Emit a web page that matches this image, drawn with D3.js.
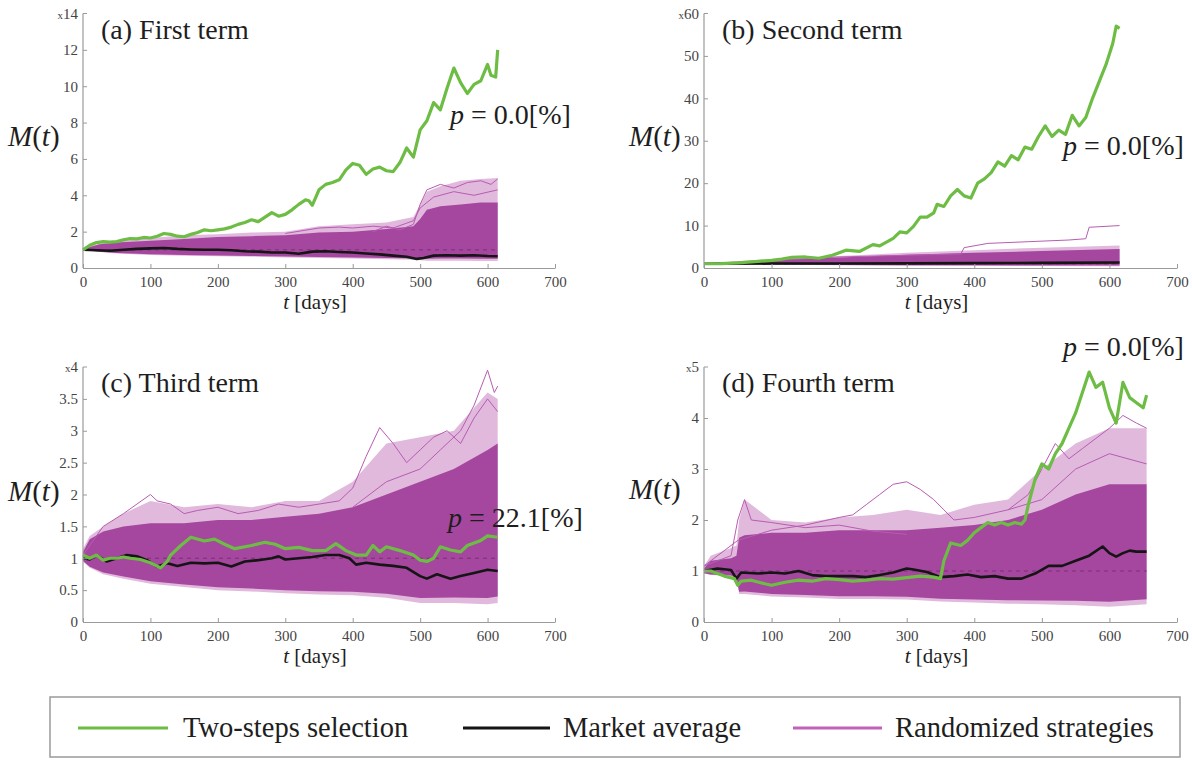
<!DOCTYPE html>
<html>
<head>
<meta charset="utf-8">
<script src="https://cdn.jsdelivr.net/npm/d3@7"></script>
<style>
  body { margin: 0; background: #fff; }
  svg { display: block; }
  text { font-family: "Liberation Serif", LiberationSerif, "Times New Roman", Times, "Nimbus Roman", "Nimbus Roman No9 L", FreeSerif, "Noto Serif", "DejaVu Serif", Tinos, serif; }
</style>
</head>
<body>
<div id="chart"></div>
<script>
// x ticks shared by all panels
const xTicks = [0, 100, 200, 300, 400, 500, 600, 700];

// ---- (a) First term ----
const tGreenA = [0,10,20,30,40,50,60,70,80,90,100,110,120,130,140,150,160,170,180,190,200,210,220,230,240,250,260,270,280,290,300,310,320,330,335,340,350,360,370,380,390,400,410,420,430,440,450,460,470,480,490,500,510,520,530,540,550,560,570,580,590,600,605,612,615];
const greenA = [1.0,1.25,1.4,1.45,1.42,1.45,1.55,1.62,1.6,1.68,1.65,1.75,1.9,1.85,1.75,1.72,1.85,1.95,2.1,2.05,2.1,2.15,2.25,2.4,2.5,2.65,2.55,2.8,3.05,2.85,2.95,3.2,3.5,3.75,3.7,3.45,4.3,4.6,4.7,4.85,5.4,5.75,5.65,5.15,5.45,5.55,5.35,5.3,5.8,6.6,6.1,7.6,8.1,9.1,8.7,9.9,11.0,10.2,9.6,10.1,10.3,11.2,10.6,10.5,12.0];
const tBlackA = [0,20,40,60,80,100,120,140,160,180,200,220,240,260,280,300,320,340,360,380,400,420,440,460,480,495,505,520,540,560,580,600,615];
const blackA = [1.0,0.98,0.95,1.0,1.05,1.08,1.1,1.05,1.02,1.0,1.0,0.98,0.92,0.9,0.85,0.85,0.78,0.9,0.92,0.88,0.85,0.8,0.75,0.68,0.62,0.5,0.55,0.68,0.7,0.68,0.7,0.66,0.65];
const tBandA = [0,10,25,50,100,150,200,250,300,350,400,450,490,500,510,530,560,590,615];
const denseHiA = [1.0,1.15,1.3,1.4,1.5,1.6,1.7,1.75,1.8,1.95,2.0,2.15,2.3,2.7,3.2,3.4,3.5,3.6,3.6];
const sparseHiA = [1.0,1.2,1.35,1.5,1.65,1.8,1.85,1.95,2.0,2.3,2.4,2.5,2.8,3.5,4.2,4.5,4.8,4.9,4.95];
const loA = [1.0,0.95,0.88,0.8,0.72,0.68,0.65,0.62,0.58,0.55,0.52,0.48,0.45,0.42,0.4,0.4,0.4,0.38,0.38];
const tOutA1 = [430,450,470,490,500,510,530,550,570,590,605,615];
const outA1 = [2.0,2.3,2.1,2.4,3.5,4.3,4.6,4.4,4.7,4.8,4.6,4.9];
const tOutA2 = [300,350,380,400,430,460,490,500,520,550,580,615];
const outA2 = [1.9,2.2,2.25,2.2,2.3,2.2,2.6,3.3,3.9,4.2,4.0,4.3];
const yTicksA = [0, 2, 4, 6, 8, 10, 12];

// ---- (b) Second term ----
const tGreenB = [0,25,50,75,100,115,130,150,170,190,210,230,250,260,280,290,300,310,320,330,340,345,355,365,375,385,395,405,415,425,435,445,455,465,475,485,495,505,515,525,535,545,555,565,575,585,595,605,610,615];
const greenB = [1.0,1.05,1.2,1.5,1.8,2.1,2.5,2.6,2.3,3.0,4.2,3.9,5.5,5.2,7.0,8.5,8.3,9.8,12.0,12.0,13.0,15.0,14.5,17.0,18.5,17.0,16.5,20.0,21.0,22.5,25.0,24.0,26.5,25.5,28.5,28.0,31.0,33.5,31.0,32.5,31.5,36.0,33.5,35.5,40.0,44.0,48.0,53.0,57.0,56.5];
const tBlackB = [0,100,200,300,400,500,615];
const blackB = [1.0,1.05,1.05,1.1,1.15,1.2,1.3];
const tBandB = [0,50,100,200,300,400,500,615];
const denseHiB = [1.0,1.4,1.9,2.5,3.1,3.6,4.0,4.5];
const sparseHiB = [1.0,1.6,2.1,2.8,3.6,4.2,4.8,5.3];
const loB = [1.0,0.85,0.75,0.65,0.55,0.5,0.45,0.4];
const tOutB = [0,100,200,300,380,385,420,480,540,565,570,615];
const outB = [1.0,1.8,2.6,3.0,3.3,4.8,5.8,6.2,6.6,6.9,9.6,10.0];
const yTicksB = [0, 10, 20, 30, 40, 50];

// ---- (c) Third term ----
const tGreenC = [0,10,20,30,40,50,60,70,85,100,115,125,130,145,160,180,195,210,225,250,270,285,300,320,340,360,375,390,405,420,430,440,450,470,490,500,510,520,530,545,560,570,590,600,615];
const greenC = [1.05,1.0,1.05,0.97,1.0,1.0,1.02,1.0,0.98,0.93,0.85,0.95,1.05,1.2,1.33,1.27,1.3,1.22,1.15,1.2,1.25,1.22,1.15,1.17,1.12,1.12,1.23,1.12,1.05,1.05,1.2,1.1,1.18,1.12,1.05,0.97,0.95,1.0,1.18,1.13,1.1,1.2,1.28,1.35,1.33];
const tBlackC = [0,10,20,35,50,65,80,95,110,125,140,160,180,200,220,240,260,280,290,300,320,340,360,380,395,405,420,440,460,480,500,510,525,545,560,580,600,615];
const blackC = [1.0,0.98,1.05,0.95,1.0,1.05,1.03,0.97,0.87,0.92,0.88,0.93,0.92,0.93,0.87,0.95,0.97,1.0,1.03,0.98,1.0,1.02,1.05,1.05,1.0,0.9,0.93,0.9,0.88,0.85,0.72,0.68,0.75,0.68,0.72,0.77,0.82,0.8];
const tBandC = [0,10,30,60,100,150,200,250,300,350,400,450,500,550,600,615];
const denseHiC = [1.1,1.3,1.42,1.5,1.55,1.55,1.6,1.6,1.65,1.7,1.8,2.0,2.2,2.4,2.7,2.8];
const sparseHiC = [1.15,1.35,1.5,1.7,1.9,1.8,1.85,1.8,1.9,1.9,2.2,2.8,2.9,3.0,3.6,3.5];
const loC = [0.95,0.85,0.75,0.68,0.6,0.55,0.5,0.48,0.45,0.43,0.42,0.38,0.3,0.3,0.28,0.3];
const tOutC1 = [0,30,60,80,100,110,130,150,170,200,230,260,290,320,350,380];
const outC1 = [1.05,1.5,1.7,1.85,2.0,1.9,1.85,1.7,1.75,1.8,1.7,1.75,1.85,1.8,1.85,1.9];
const tOutC2 = [380,400,420,440,460,480,500,520,540,560,580,600,615];
const outC2 = [1.9,2.1,2.6,3.05,2.8,2.5,2.7,2.9,3.0,2.8,3.2,3.5,3.3];
const tOutC3 = [400,450,500,530,560,580,600,610,615];
const outC3 = [1.8,2.2,2.4,2.7,3.0,3.4,3.95,3.6,3.7];
const yTicksC = [0, 0.5, 1, 1.5, 2, 2.5, 3, 3.5];

// ---- (d) Fourth term ----
const tGreenD = [0,10,20,30,45,50,55,70,90,100,120,140,160,180,200,220,240,260,280,300,320,340,350,355,365,380,390,400,410,420,430,440,450,460,470,475,480,490,500,510,520,530,540,550,560,570,580,590,600,610,620,630,640,650,655];
const greenD = [1.0,1.0,0.95,0.9,0.85,0.72,0.8,0.82,0.75,0.72,0.78,0.82,0.8,0.85,0.83,0.8,0.82,0.85,0.84,0.87,0.9,0.88,0.85,1.2,1.55,1.5,1.6,1.75,1.85,1.95,1.9,1.95,1.9,1.95,1.92,2.0,2.3,2.8,3.1,3.0,3.3,3.5,3.8,4.1,4.5,4.9,4.6,4.7,4.2,3.9,4.7,4.4,4.3,4.2,4.45];
const tBlackD = [0,20,40,48,55,80,100,120,140,160,180,200,220,240,260,280,300,310,330,350,370,390,410,430,450,470,490,510,530,550,570,590,600,610,620,630,640,655];
const blackD = [1.0,1.05,1.02,0.85,0.97,0.95,0.97,0.95,1.0,0.92,0.9,0.9,0.9,0.88,0.92,0.97,1.05,1.03,0.98,0.88,0.9,0.93,0.88,0.9,0.85,0.85,0.95,1.1,1.1,1.2,1.3,1.48,1.35,1.28,1.35,1.4,1.38,1.38];
const tBandD = [0,10,40,48,52,60,100,150,200,250,300,350,400,450,500,550,600,655];
const denseHiD = [1.05,1.2,1.25,1.3,1.65,1.7,1.75,1.75,1.8,1.8,1.8,1.85,1.9,2.0,2.2,2.5,2.7,2.7];
const sparseHiD = [1.1,1.3,1.45,1.5,2.0,2.4,2.0,1.95,2.05,2.1,2.2,2.1,2.3,2.4,3.0,3.5,3.8,3.8];
const loD = [0.95,0.92,0.9,0.85,0.55,0.55,0.5,0.48,0.45,0.45,0.44,0.4,0.38,0.36,0.35,0.33,0.3,0.35];
const tOutD1 = [0,50,100,150,200,220,240,260,280,300,320,340,355,370,400,450,500,550,600,655];
const outD1 = [1.1,1.6,1.8,1.9,2.05,2.1,2.3,2.5,2.7,2.75,2.6,2.4,2.2,2.0,2.05,2.2,2.4,3.0,3.3,3.1];
const tOutD2 = [0,40,50,60,70,100,150,200,250,300];
const outD2 = [1.1,1.3,2.0,2.4,2.0,1.95,1.85,1.9,1.78,1.72];
const tOutD3 = [450,480,500,520,540,560,580,600,620,640,655];
const outD3 = [2.2,2.5,3.0,3.5,3.2,3.4,3.6,3.8,4.05,3.9,3.8];
const yTicksD = [0, 1, 2, 3, 4];

const legendLabels = ["Two-steps selection", "Market average", "Randomized strategies"];

const GREEN = "#6dbd45", BLACK = "#151515", MAG = "#a5469f", MAG_LIGHT = "#c77fc1";
const INK = "#1e1e1e";

const width = 1192, height = 760;
const svg = d3.select("#chart").append("svg")
    .attr("width", width)
    .attr("height", height);

// Measure the font that actually loaded so widths follow Times metrics
function measure(str, size) {
    const t = svg.append("text").style("font-size", size + "px").text(str);
    const w = t.node().getComputedTextLength();
    t.remove();
    return w;
}
const kText = Math.min(1.05, 147.8 / (measure("(a) First term", 28) || 147.8));
const kDigit = Math.min(1.05, 500 / (measure("0123456789", 100) || 500));

function label(parent, x, y, size, parts, anchor) {
    const g = parent.append("g").attr("transform", `translate(${x},${y}) scale(${kText},1)`);
    const t = g.append("text")
        .attr("text-anchor", anchor || "start")
        .style("font-size", size + "px")
        .attr("fill", INK);
    parts.forEach(([s, it]) => {
        t.append("tspan").style("font-style", it ? "italic" : "normal").text(s);
    });
    return t;
}

const zip = (t, v) => t.map((d, i) => ({ t: d, v: v[i] }));

const panels = [
    { title: "(a) First term", left: 83, right: 555, top: 13.5, bottom: 268, yMax: 14, yTicks: yTicksA,
      green: zip(tGreenA, greenA), black: zip(tBlackA, blackA),
      band: { t: tBandA, dense: denseHiA, sparse: sparseHiA, lo: loA },
      outliers: [zip(tOutA1, outA1), zip(tOutA2, outA2)],
      p: "0.0", pX: 450, pY: 124, mY: 146 },
    { title: "(b) Second term", left: 704, right: 1177, top: 13.5, bottom: 268, yMax: 60, yTicks: yTicksB,
      green: zip(tGreenB, greenB), black: zip(tBlackB, blackB),
      band: { t: tBandB, dense: denseHiB, sparse: sparseHiB, lo: loB }, outliers: [zip(tOutB, outB)],
      p: "0.0", pX: 1063, pY: 155, mY: 146 },
    { title: "(c) Third term", left: 83, right: 555, top: 367, bottom: 622, yMax: 4, yTicks: yTicksC,
      green: zip(tGreenC, greenC), black: zip(tBlackC, blackC),
      band: { t: tBandC, dense: denseHiC, sparse: sparseHiC, lo: loC },
      outliers: [zip(tOutC1, outC1), zip(tOutC2, outC2), zip(tOutC3, outC3)],
      p: "22.1", pX: 448, pY: 527, mY: 501 },
    { title: "(d) Fourth term", left: 704, right: 1177, top: 367, bottom: 622, yMax: 5, yTicks: yTicksD,
      green: zip(tGreenD, greenD), black: zip(tBlackD, blackD),
      band: { t: tBandD, dense: denseHiD, sparse: sparseHiD, lo: loD },
      outliers: [zip(tOutD1, outD1), zip(tOutD2, outD2), zip(tOutD3, outD3)],
      p: "0.0", pX: 1063, pY: 356, mY: 499 }
];

panels.forEach(drawPanel);

function drawPanel(p) {
    const x = d3.scaleLinear().domain([0, 700]).range([p.left, p.right]);
    const y = d3.scaleLinear().domain([0, p.yMax]).range([p.bottom, p.top]);
    const g = svg.append("g");

    const bandRows = p.band.t.map((t, i) => ({ t, dense: p.band.dense[i], sparse: p.band.sparse[i], lo: p.band.lo[i] }));

    // Randomized strategies: sparse outer envelope, then dense core
    g.append("path")
        .datum(bandRows)
        .attr("fill", MAG_LIGHT)
        .attr("opacity", 0.55)
        .attr("d", d3.area().x(d => x(d.t)).y0(d => y(d.lo)).y1(d => y(d.sparse)));

    g.append("path")
        .datum(bandRows)
        .attr("fill", MAG)
        .attr("d", d3.area().x(d => x(d.t)).y0(d => y(d.lo + (d.dense - d.lo) * 0.04)).y1(d => y(d.dense)));

    const line = d3.line().x(d => x(d.t)).y(d => y(d.v));

    p.outliers.forEach(o => {
        g.append("path")
            .datum(o)
            .attr("fill", "none")
            .attr("stroke", "#b85cb1")
            .attr("stroke-width", 1)
            .attr("d", line);
    });

    // dashed reference at M = 1
    const tEnd = d3.max(p.band.t);
    g.append("line")
        .attr("x1", x(0)).attr("x2", x(tEnd))
        .attr("y1", y(1)).attr("y2", y(1))
        .attr("stroke", "#7d2f77")
        .attr("stroke-width", 1)
        .attr("stroke-dasharray", "4,4");

    g.append("path")
        .datum(p.black)
        .attr("fill", "none")
        .attr("stroke", BLACK)
        .attr("stroke-width", 2.6)
        .attr("stroke-linejoin", "round")
        .attr("d", line);

    g.append("path")
        .datum(p.green)
        .attr("fill", "none")
        .attr("stroke", GREEN)
        .attr("stroke-width", 3.2)
        .attr("stroke-linejoin", "round")
        .attr("d", line);

    // Axes
    const tickSize = (15 * kDigit).toFixed(1) + "px";
    const xAxis = g.append("g")
        .attr("transform", `translate(0,${p.bottom})`)
        .call(d3.axisBottom(x).tickValues(xTicks).tickSize(-4).tickSizeOuter(0).tickPadding(8));
    const yAxis = g.append("g")
        .attr("transform", `translate(${p.left},0)`)
        .call(d3.axisLeft(y).tickValues(p.yTicks).tickSize(-4).tickSizeOuter(0).tickPadding(5).tickFormat(d3.format("~g")));

    [xAxis, yAxis].forEach(a => {
        a.attr("font-family", null);
        a.select(".domain").attr("stroke", "#9a9a9a").attr("stroke-width", 1.2);
        a.selectAll(".tick line").attr("stroke", "#9a9a9a");
        a.selectAll("text")
            .attr("fill", "#444")
            .style("font-size", tickSize);
    });
    // axis line up to the top
    yAxis.select(".domain").attr("d", `M0,${p.bottom}V${p.top}`);
    yAxis.append("line").attr("x1", 0).attr("x2", 4).attr("y1", p.top).attr("y2", p.top).attr("stroke", "#9a9a9a");

    // multiplier label at axis top
    const top = g.append("text")
        .attr("x", p.left - 5).attr("y", p.top + 5)
        .attr("text-anchor", "end")
        .attr("fill", "#444");
    top.append("tspan").style("font-size", (11 * kDigit).toFixed(1) + "px").text("x");
    top.append("tspan").style("font-size", tickSize).text(p.yMax);

    // Panel title
    label(g, p.left + 18, p.top + 25, 28, [[p.title, false]]);

    // y label M(t)
    label(g, p.left - 75, p.mY, 29, [["M", true], ["(", false], ["t", true], [")", false]]);

    // x label
    label(g, x(350) - 4, p.bottom + 41, 21, [["t", true], [" [days]", false]], "middle");

    // p value
    label(g, p.pX, p.pY, 28, [["p", true], [` = ${p.p}[%]`, false]]);
}

// Legend
const legend = svg.append("g");
legend.append("rect")
    .attr("x", 50).attr("y", 697)
    .attr("width", 1130).attr("height", 60)
    .attr("fill", "none")
    .attr("stroke", "#9a9a9a")
    .attr("stroke-width", 1.5);

const legendItems = [
    { label: legendLabels[0], color: GREEN, x1: 78, x2: 168, tx: 183 },
    { label: legendLabels[1], color: BLACK, x1: 463, x2: 550, tx: 563 },
    { label: legendLabels[2], color: "#c263b9", x1: 793, x2: 882, tx: 895 }
];
legendItems.forEach(it => {
    legend.append("line")
        .attr("x1", it.x1).attr("x2", it.x2)
        .attr("y1", 728).attr("y2", 728)
        .attr("stroke", it.color)
        .attr("stroke-width", 3);
    label(legend, it.tx, 737, 28.5, [[it.label, false]]);
});
</script>
</body>
</html>
